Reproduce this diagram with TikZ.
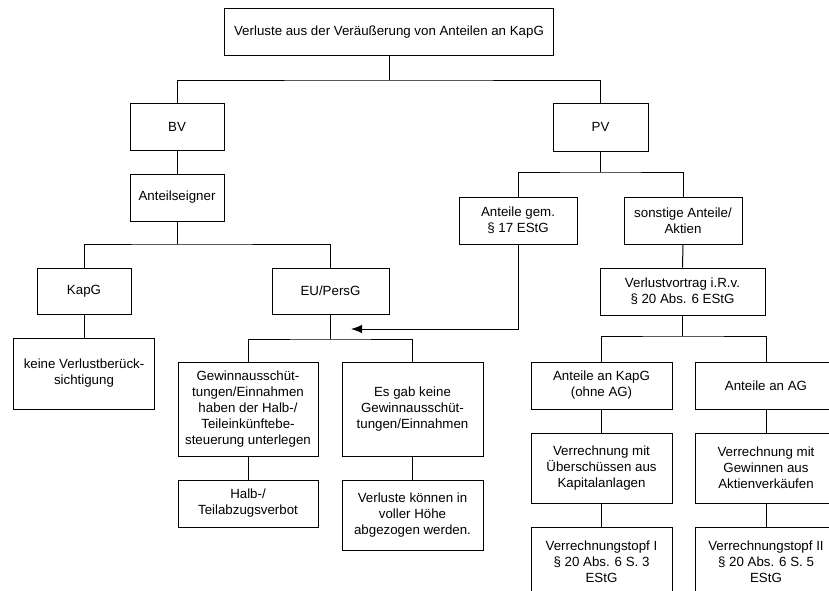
\documentclass[tikz,border=0pt]{standalone}
\usepackage{fontspec}
\setmainfont{Liberation Sans}
\usetikzlibrary{arrows.meta}
\begin{document}
\begin{tikzpicture}[x=1pt,y=-1pt,
  box/.style={draw=black, line width=1pt, fill=white, align=center, inner sep=0pt,
    font=\fontsize{13.3pt}{16pt}\selectfont},
  link/.style={draw=black, line width=1pt}]
\clip (0,0) rectangle (829,590);
\fill[white] (0,0) rectangle (829,590);

% root
\node[box, minimum width=329pt, minimum height=47pt] (top) at (389,32) {Verluste aus der Veräußerung von Anteilen an KapG};

% Betriebsvermögen branch
\node[box, minimum width=94pt, minimum height=47pt] (bv) at (177,127) {BV};
\node[box, minimum width=94pt, minimum height=47pt] (ant) at (177,197.5) {Anteilseigner};
\node[box, minimum width=94pt, minimum height=46pt] (kapg) at (84,291) {KapG};
\node[box, minimum width=117pt, minimum height=46pt] (eu) at (330.5,291) {EU/PersG};
\node[box, minimum width=141pt, minimum height=71pt] (keine) at (84,373.5) {keine Verlustberück-\\sichtigung};
\node[box, minimum width=140pt, minimum height=94pt] (gew) at (248,409) {Gewinnausschüt-\\tungen/Einnahmen\\haben der Halb-/\\Teileinkünftebe-\\steuerung unterlegen};
\node[box, minimum width=141pt, minimum height=94pt] (esgab) at (412.5,409) {Es gab keine\\Gewinnausschüt-\\tungen/Einnahmen};
\node[box, minimum width=140pt, minimum height=47pt] (halb) at (248,503.5) {Halb-/\\Teilabzugsverbot};
\node[box, minimum width=141pt, minimum height=70pt] (verl) at (412.5,515) {Verluste können in\\voller Höhe\\abgezogen werden.};

% Privatvermögen branch
\node[box, minimum width=95pt, minimum height=48pt] (pv) at (600.5,127) {PV};
\node[box, minimum width=118pt, minimum height=47pt] (gem) at (518,220.5) {Anteile gem.\\§ 17 EStG};
\node[box, minimum width=118pt, minimum height=47pt] (sonst) at (683,220.5) {sonstige Anteile/\\Aktien};
\node[box, minimum width=165pt, minimum height=47pt] (vv) at (682.5,291.5) {Verlustvortrag i.R.v.\\§ 20 Abs. 6 EStG};
\node[box, minimum width=141pt, minimum height=47pt] (akapg) at (601.5,385.5) {Anteile an KapG\\(ohne AG)};
\node[box, minimum width=141pt, minimum height=47pt] (aag) at (766,385.5) {Anteile an AG};
\node[box, minimum width=141pt, minimum height=70pt] (vm1) at (601.5,468) {Verrechnung mit\\Überschüssen aus\\Kapitalanlagen};
\node[box, minimum width=141pt, minimum height=70pt] (vm2) at (766,468) {Verrechnung mit\\Gewinnen aus\\Aktienverkäufen};
\node[box, minimum width=141pt, minimum height=70pt] (vt1) at (601.5,562) {Verrechnungstopf I\\§ 20 Abs. 6 S. 3\\EStG};
\node[box, minimum width=141pt, minimum height=70pt] (vt2) at (766,562) {Verrechnungstopf II\\§ 20 Abs. 6 S. 5\\EStG};

% junction points of the tree
\coordinate (j1) at (389,80);
\coordinate (j2) at (177,244);
\coordinate (j3) at (330.5,339);
\coordinate (j4) at (600.5,172);
\coordinate (j5) at (682.5,336);
\coordinate (arrtip) at (351,329);

% connectors
\path[link] (top.south) -- (j1);
\path[link] (bv.north) |- (j1) -| (pv.north);
\path[link] (bv.south) -- (ant.north);
\path[link] (ant.south) -- (j2);
\path[link] (kapg.north) |- (j2) -| (eu.north);
\path[link] (kapg.south) -- (keine.north);
\path[link] (eu.south) -- (j3);
\path[link] (gew.north) |- (j3) -| (esgab.north);
\path[link] (gew.south) -- (halb.north);
\path[link] (esgab.south) -- (verl.north);
\path[link, -{Latex[length=11pt,width=8.5pt]}] (gem.south) |- (arrtip);
\path[link] (pv.south) -- (j4);
\path[link] (gem.north) |- (j4) -| (sonst.north);
\path[link] (sonst.south) -- (vv.north);
\path[link] (vv.south) -- (j5);
\path[link] (akapg.north) |- (j5) -| (aag.north);
\path[link] (akapg.south) -- (vm1.north);
\path[link] (vm1.south) -- (vt1.north);
\path[link] (aag.south) -- (vm2.north);
\path[link] (vm2.south) -- (vt2.north);
\end{tikzpicture}
\end{document}
